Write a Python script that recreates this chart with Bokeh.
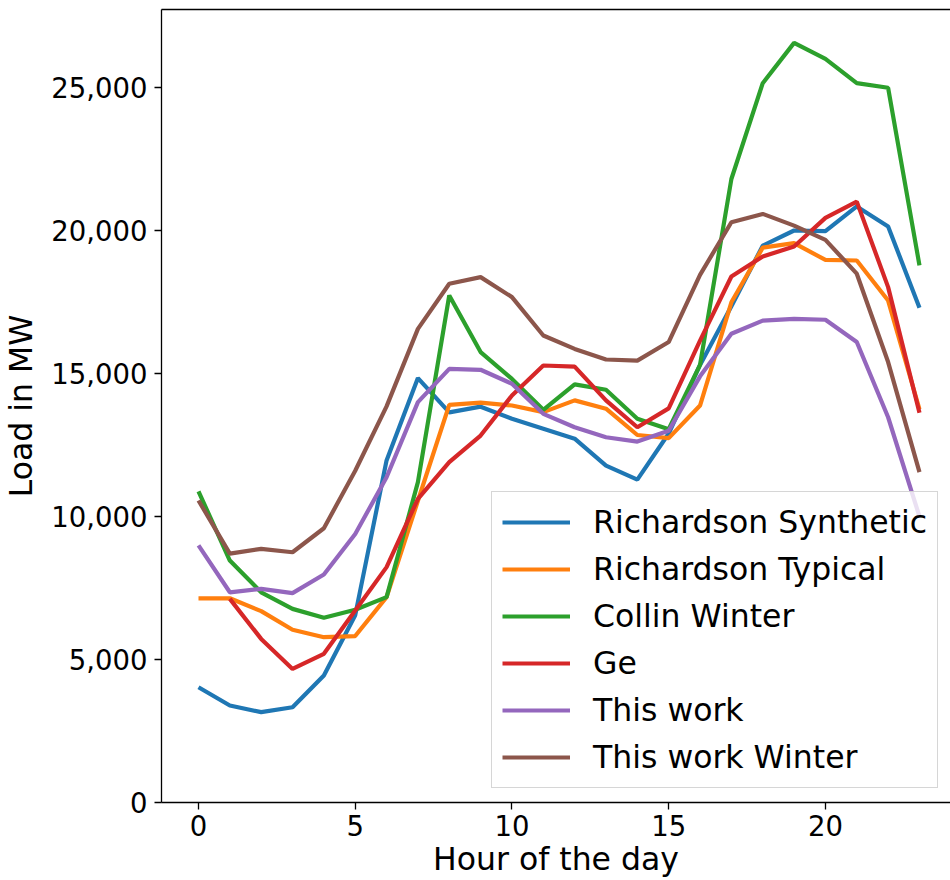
from bokeh.plotting import figure
from bokeh.models import (Range1d, LinearAxis, FixedTicker, NumeralTickFormatter,
                          Legend, LegendItem)
from bokeh.embed import file_html
from bokeh.resources import INLINE

hours = list(range(24))
ge_hours = list(range(1, 24))

richardson_synthetic = [4030, 3390, 3160, 3330, 4440, 6550, 11960, 14840, 13640, 13840,
                        13420, 13070, 12720, 11780, 11290, 12900, 15300, 17350, 19470,
                        20000, 19980, 20840, 20140, 17300]
richardson_typical = [7140, 7140, 6690, 6040, 5780, 5820, 7180, 10550, 13900, 13980,
                      13880, 13650, 14060, 13770, 12850, 12740, 13880, 17490, 19400,
                      19560, 18970, 18950, 17550, 13750]
collin_winter = [10880, 8460, 7350, 6770, 6460, 6740, 7180, 11200, 17730, 15750,
                 14810, 13730, 14620, 14430, 13420, 13050, 15300, 21800, 25150,
                 26560, 26000, 25150, 24990, 18780]
ge = [7120, 5720, 4670, 5200, 6710, 8230, 10620, 11900, 12830, 14230, 15280, 15240,
      14060, 13120, 13780, 16150, 18390, 19090, 19440, 20440, 21010, 18020, 13630]
this_work = [8990, 7350, 7470, 7320, 7970, 9390, 11370, 14000, 15160, 15130, 14640,
             13590, 13120, 12770, 12620, 13000, 14900, 16390, 16850, 16910, 16880,
             16100, 13470, 10000]
this_work_winter = [10560, 8700, 8870, 8750, 9590, 11600, 13850, 16560, 18140, 18370,
                    17670, 16330, 15860, 15490, 15450, 16100, 18450, 20290, 20580,
                    20170, 19670, 18490, 15400, 11550]

series_names = ["Richardson Synthetic", "Richardson Typical", "Collin Winter", "Ge",
                "This work", "This work Winter"]
series_x = [hours, hours, hours, ge_hours, hours, hours]
series_y = [richardson_synthetic, richardson_typical, collin_winter, ge, this_work,
            this_work_winter]
colors = ["#1f77b4", "#ff7f0e", "#2ca02c", "#d62728", "#9467bd", "#8c564b"]

x_ticks = [0, 5, 10, 15, 20]
y_ticks = [0, 5000, 10000, 15000, 20000, 25000]

FONT = "DejaVu Sans"

p = figure(width=950, height=880,
           x_range=Range1d(-1.18, 23.99), y_range=Range1d(0, 27727),
           output_backend="svg", toolbar_location=None,
           min_border_left=150, min_border_right=0, min_border_top=9,
           min_border_bottom=78)
p.outline_line_color = None
p.xgrid.visible = False
p.ygrid.visible = False
p.background_fill_color = "white"
p.border_fill_color = "white"

items = []
for name, xs, ys, c in zip(series_names, series_x, series_y, colors):
    r = p.line(xs, ys, line_width=4.2, line_color=c)
    items.append(LegendItem(label=name, renderers=[r]))

for ax in (p.xaxis[0], p.yaxis[0]):
    ax.axis_line_color = "black"
    ax.axis_line_width = 1.3
    ax.major_tick_line_color = "black"
    ax.major_tick_line_width = 1.3
    ax.major_tick_in = 0
    ax.major_tick_out = 7
    ax.minor_tick_line_color = None
    ax.major_label_text_font = FONT
    ax.major_label_text_font_size = "27.5px"
    ax.major_label_text_color = "black"
    ax.axis_label_text_font = FONT
    ax.axis_label_text_font_size = "31.5px"
    ax.axis_label_text_font_style = "normal"
    ax.axis_label_text_color = "black"

p.xaxis[0].ticker = FixedTicker(ticks=x_ticks)
p.xaxis[0].axis_label = "Hour of the day"
p.xaxis[0].major_label_standoff = 5
p.xaxis[0].axis_label_standoff = 2

p.yaxis[0].ticker = FixedTicker(ticks=y_ticks)
p.yaxis[0].formatter = NumeralTickFormatter(format="0,0")
p.yaxis[0].axis_label = "Load in MW"
p.yaxis[0].major_label_standoff = 7
p.yaxis[0].axis_label_standoff = 9

top = LinearAxis(ticker=FixedTicker(ticks=[]), major_label_text_font_size="0px",
                 major_tick_line_color=None, minor_tick_line_color=None,
                 major_tick_out=0, major_tick_in=0, major_label_standoff=0,
                 axis_line_color="black", axis_line_width=1.3)
p.add_layout(top, "above")

legend = Legend(items=items, location=(330, 14), orientation="vertical",
                glyph_width=68, glyph_height=40, label_height=40,
                label_standoff=23, padding=10, spacing=7, margin=0,
                label_text_font=FONT, label_text_font_size="31.5px",
                label_text_color="black",
                border_line_color="#cccccc", border_line_width=1.3,
                border_line_alpha=0.8, background_fill_color="white",
                background_fill_alpha=0.8)
p.add_layout(legend, "center")

open("out.html", "w").write(file_html(p, INLINE))
